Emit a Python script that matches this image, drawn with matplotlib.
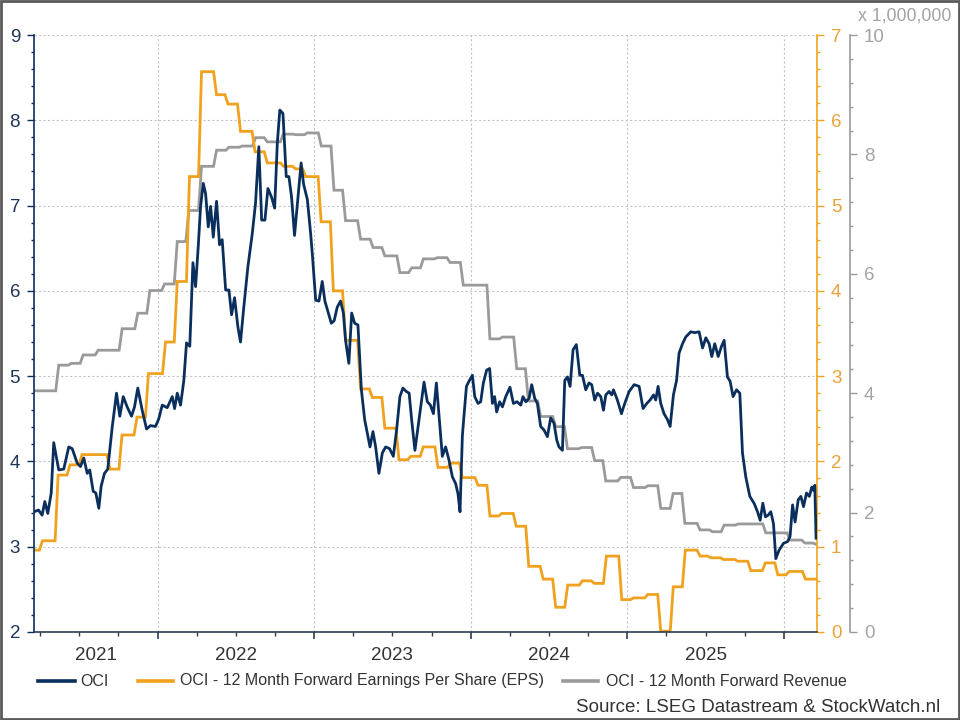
import matplotlib
matplotlib.use('Agg')
import matplotlib.pyplot as plt
from matplotlib.ticker import MultipleLocator, FixedLocator, NullFormatter
from matplotlib.transforms import blended_transform_factory
from matplotlib.lines import Line2D
from matplotlib.patches import Rectangle

plt.rcParams['font.family'] = ['Liberation Sans', 'DejaVu Sans']

# ---------------- data (time in decimal years) ----------------
oci_t = [2021.211, 2021.240, 2021.263, 2021.280, 2021.299, 2021.321, 2021.337, 2021.369, 2021.401,
         2021.433, 2021.455, 2021.487, 2021.508, 2021.529, 2021.551, 2021.567, 2021.589, 2021.606,
         2021.625, 2021.640, 2021.661, 2021.682, 2021.711, 2021.738, 2021.759, 2021.781, 2021.806,
         2021.834, 2021.853, 2021.874, 2021.902, 2021.930, 2021.955, 2021.987, 2022.008, 2022.030,
         2022.062, 2022.094, 2022.109, 2022.126, 2022.147, 2022.168, 2022.185, 2022.206, 2022.226,
         2022.243, 2022.260, 2022.275, 2022.292, 2022.307, 2022.324, 2022.339, 2022.356, 2022.377,
         2022.396, 2022.413, 2022.435, 2022.456, 2022.473, 2022.492, 2022.513, 2022.530, 2022.551,
         2022.577, 2022.605, 2022.626, 2022.647, 2022.665, 2022.686, 2022.705, 2022.728, 2022.748,
         2022.765, 2022.781, 2022.801, 2022.822, 2022.839, 2022.856, 2022.875, 2022.895, 2022.917,
         2022.933, 2022.957, 2022.978, 2022.990, 2023.010, 2023.031, 2023.052, 2023.069, 2023.091,
         2023.110, 2023.128, 2023.148, 2023.169, 2023.187, 2023.201, 2023.222, 2023.240, 2023.259,
         2023.280, 2023.302, 2023.323, 2023.357, 2023.376, 2023.393, 2023.414, 2023.436, 2023.457,
         2023.482, 2023.506, 2023.527, 2023.548, 2023.567, 2023.589, 2023.607, 2023.623, 2023.644,
         2023.670, 2023.702, 2023.723, 2023.743, 2023.762, 2023.781, 2023.797, 2023.819, 2023.840,
         2023.861, 2023.883, 2023.904, 2023.919, 2023.932, 2023.947, 2023.957, 2023.973, 2023.989,
         2024.011, 2024.026, 2024.047, 2024.064, 2024.081, 2024.102, 2024.121, 2024.139, 2024.153,
         2024.166, 2024.185, 2024.203, 2024.224, 2024.251, 2024.273, 2024.296, 2024.320, 2024.334,
         2024.352, 2024.373, 2024.390, 2024.409, 2024.426, 2024.447, 2024.468, 2024.490, 2024.511,
         2024.532, 2024.550, 2024.564, 2024.586, 2024.601, 2024.618, 2024.635, 2024.654, 2024.675,
         2024.697, 2024.714, 2024.735, 2024.756, 2024.773, 2024.792, 2024.810, 2024.831, 2024.848,
         2024.863, 2024.884, 2024.901, 2024.912, 2024.937, 2024.963, 2024.984, 2025.012, 2025.044,
         2025.076, 2025.101, 2025.125, 2025.146, 2025.168, 2025.182, 2025.197, 2025.214, 2025.235,
         2025.257, 2025.274, 2025.295, 2025.315, 2025.331, 2025.353, 2025.374, 2025.406, 2025.431,
         2025.459, 2025.481, 2025.502, 2025.523, 2025.540, 2025.559, 2025.581, 2025.602, 2025.619,
         2025.640, 2025.657, 2025.676, 2025.698, 2025.719, 2025.736, 2025.757, 2025.783, 2025.810,
         2025.832, 2025.849, 2025.866, 2025.883, 2025.900, 2025.917, 2025.934, 2025.949, 2025.970,
         2025.998, 2026.024, 2026.040, 2026.056, 2026.072, 2026.092, 2026.109, 2026.126, 2026.145,
         2026.163, 2026.179, 2026.190, 2026.198, 2026.206]
oci_v = [3.41, 3.43, 3.37, 3.53, 3.39, 3.63, 4.22, 3.90, 3.91,
         4.17, 4.15, 3.98, 3.94, 4.04, 3.86, 3.90, 3.65, 3.63,
         3.45, 3.71, 3.86, 3.91, 4.41, 4.80, 4.53, 4.76, 4.64,
         4.53, 4.64, 4.86, 4.60, 4.38, 4.42, 4.41, 4.50, 4.66,
         4.63, 4.76, 4.62, 4.80, 4.66, 4.95, 5.39, 5.35, 6.33,
         6.05, 6.52, 6.99, 7.26, 7.14, 6.75, 6.99, 6.63, 7.05,
         6.54, 6.60, 6.01, 6.01, 5.72, 5.92, 5.58, 5.40, 5.81,
         6.28, 6.67, 7.03, 7.69, 6.83, 6.83, 7.20, 7.10, 6.97,
         7.73, 8.12, 8.08, 7.34, 7.34, 7.10, 6.65, 7.05, 7.50,
         7.25, 7.07, 6.67, 6.40, 5.89, 5.88, 6.11, 5.88, 5.74,
         5.62, 5.65, 5.81, 5.88, 5.74, 5.42, 5.15, 5.74, 5.62,
         5.60, 4.84, 4.49, 4.17, 4.35, 4.17, 3.86, 4.10, 4.17,
         4.15, 4.06, 4.37, 4.76, 4.86, 4.82, 4.80, 4.49, 4.13,
         4.49, 4.93, 4.70, 4.66, 4.56, 4.92, 4.56, 4.06, 4.17,
         4.02, 3.82, 3.74, 3.62, 3.41, 4.30, 4.53, 4.88, 4.94,
         5.01, 4.76, 4.68, 4.70, 4.92, 5.07, 5.09, 4.68, 4.76,
         4.58, 4.70, 4.64, 4.76, 4.87, 4.68, 4.70, 4.66, 4.76,
         4.70, 4.74, 4.90, 4.74, 4.68, 4.41, 4.37, 4.29, 4.51,
         4.45, 4.25, 4.17, 4.13, 4.95, 4.99, 4.88, 5.31, 5.37,
         5.01, 5.01, 4.84, 4.92, 4.90, 4.72, 4.80, 4.76, 4.60,
         4.78, 4.82, 4.78, 4.84, 4.72, 4.56, 4.68, 4.82, 4.90,
         4.88, 4.62, 4.68, 4.72, 4.78, 4.72, 4.88, 4.68, 4.56,
         4.49, 4.41, 4.78, 4.95, 5.27, 5.38, 5.46, 5.52, 5.51,
         5.52, 5.33, 5.45, 5.38, 5.23, 5.38, 5.23, 5.35, 5.42,
         4.99, 4.94, 4.76, 4.84, 4.80, 4.10, 3.82, 3.59, 3.51,
         3.41, 3.31, 3.51, 3.35, 3.37, 3.41, 3.27, 2.86, 2.96,
         3.04, 3.06, 3.12, 3.49, 3.29, 3.55, 3.59, 3.47, 3.63,
         3.59, 3.70, 3.66, 3.72, 3.10]

# EPS: start of each level and its value
eps_t = [2021.211, 2021.265, 2021.365, 2021.441, 2021.518, 2021.696, 2021.773, 2021.869, 2021.942,
         2022.051, 2022.126, 2022.204, 2022.281, 2022.377, 2022.450, 2022.530, 2022.623, 2022.701,
         2022.805, 2022.882, 2022.946, 2023.045, 2023.123, 2023.201, 2023.297, 2023.372, 2023.452,
         2023.542, 2023.617, 2023.697, 2023.791, 2023.872, 2023.947, 2024.047, 2024.123, 2024.198,
         2024.291, 2024.371, 2024.463, 2024.543, 2024.620, 2024.713, 2024.789, 2024.867, 2024.965,
         2025.040, 2025.131, 2025.214, 2025.294, 2025.371, 2025.465, 2025.534, 2025.615, 2025.706,
         2025.789, 2025.882, 2025.962, 2026.034, 2026.138]
eps_v = [0.96, 1.07, 1.84, 1.96, 2.08, 1.91, 2.31, 2.52, 3.03,
         3.40, 4.11, 5.34, 6.57, 6.30, 6.19, 5.87, 5.63, 5.50,
         5.46, 5.43, 5.34, 4.81, 4.00, 3.42, 2.85, 2.75, 2.39,
         2.02, 2.06, 2.17, 1.93, 1.98, 1.81, 1.72, 1.36, 1.39,
         1.24, 0.77, 0.62, 0.29, 0.55, 0.60, 0.57, 0.89, 0.38,
         0.40, 0.44, 0.01, 0.53, 0.96, 0.89, 0.87, 0.85, 0.83,
         0.72, 0.81, 0.67, 0.71, 0.62]

# Revenue (x 1,000,000): start of each level and its value
rev_t = [2021.211, 2021.369, 2021.449, 2021.525, 2021.621, 2021.774, 2021.874, 2021.951, 2022.045,
         2022.126, 2022.200, 2022.281, 2022.377, 2022.456, 2022.541, 2022.626, 2022.701, 2022.803,
         2022.882, 2022.957, 2023.046, 2023.127, 2023.201, 2023.297, 2023.377, 2023.452, 2023.548,
         2023.623, 2023.698, 2023.787, 2023.868, 2023.953, 2024.123, 2024.203, 2024.294, 2024.369,
         2024.447, 2024.543, 2024.618, 2024.709, 2024.792, 2024.863, 2024.959, 2025.040, 2025.133,
         2025.214, 2025.293, 2025.368, 2025.465, 2025.544, 2025.619, 2025.709, 2025.885, 2026.040,
         2026.134, 2026.205]
rev_v = [4.04, 4.47, 4.50, 4.64, 4.72, 5.08, 5.34, 5.72, 5.83,
         6.54, 7.06, 7.80, 8.07, 8.12, 8.14, 8.28, 8.21, 8.34,
         8.33, 8.36, 8.14, 7.40, 6.89, 6.58, 6.44, 6.30, 6.02,
         6.10, 6.25, 6.27, 6.19, 5.81, 4.91, 4.94, 4.41, 3.87,
         3.61, 3.44, 3.07, 3.09, 2.87, 2.53, 2.59, 2.42, 2.45,
         2.07, 2.32, 1.82, 1.71, 1.68, 1.79, 1.81, 1.66, 1.54,
         1.49, 1.47]

t_end = 2026.212
year_labels = ['2021', '2022', '2023', '2024', '2025']
series_names = ['OCI', 'OCI - 12 Month Forward Earnings Per Share (EPS)',
                'OCI - 12 Month Forward Revenue']

# ---------------- styles ----------------
C_OCI = '#0b2f5c'
C_EPS = '#f0a21e'
C_REV = '#9a9a9a'
C_TXT = '#333333'
C_LEFT = '#1d3557'
C_GRID = '#c4c4c4'


def step_path(ts, vs, end, ramp=1 / 52):
    xs, ys = [], []
    for i, (t, v) in enumerate(zip(ts, vs)):
        nxt = ts[i + 1] - ramp if i + 1 < len(ts) else end
        xs += [t, nxt]
        ys += [v, v]
    return xs, ys


fig = plt.figure(figsize=(9.6, 7.2), dpi=100, facecolor='white')
L, R, B, T = 34 / 960, 817 / 960, 88 / 720, 685 / 720
ax = fig.add_axes([L, B, R - L, T - B])
ax2 = ax.twinx()
ax3 = ax.twinx()

ax3.set_zorder(1)
ax2.set_zorder(2)
ax.set_zorder(3)
for a in (ax, ax2, ax3):
    a.patch.set_visible(False)

x0 = 2021.211
ax.set_xlim(x0, t_end)
ax.set_ylim(2, 9)
ax2.set_ylim(0, 7)
ax3.set_ylim(0, 10)

# grid drawn on the lowest axis
tr = blended_transform_factory(ax3.transAxes, ax.transData)
for v in range(2, 10):
    ax3.plot([0, 1], [v, v], transform=tr, color=C_GRID, lw=0.8, ls=(0, (2, 2)), zorder=0)
for yr in range(2022, 2027):
    if yr < t_end:
        ax3.axvline(yr, color=C_GRID, lw=0.8, ls=(0, (2, 2)), zorder=0)

# series
rx, ry = step_path(rev_t, rev_v, t_end)
ax3.plot(rx, ry, color=C_REV, lw=2.0, solid_joinstyle='miter')
ex, ey = step_path(eps_t, eps_v, t_end)
ax2.plot(ex, ey, color=C_EPS, lw=2.0, solid_joinstyle='miter')
ax.plot(oci_t, oci_v, color=C_OCI, lw=2.0)

# spines
for a in (ax, ax2, ax3):
    a.spines['top'].set_visible(False)
ax.spines['right'].set_visible(False)
ax.spines['left'].set_color(C_OCI)
ax.spines['left'].set_linewidth(1.2)
ax.spines['bottom'].set_color('#2c3e50')
ax.spines['bottom'].set_linewidth(1.2)
for a in (ax2, ax3):
    a.spines['left'].set_visible(False)
    a.spines['bottom'].set_visible(False)
ax2.spines['right'].set_color(C_EPS)
ax2.spines['right'].set_linewidth(1.2)
ax3.spines['right'].set_position(('axes', (850 - 34) / 783))
ax3.spines['right'].set_color(C_REV)
ax3.spines['right'].set_linewidth(1.2)

# left axis ticks
ax.yaxis.set_major_locator(MultipleLocator(1))
ax.yaxis.set_minor_locator(MultipleLocator(0.2))
ax.tick_params(axis='y', which='major', length=5, width=1, color=C_OCI,
               labelcolor=C_LEFT, labelsize=13.5, pad=5)
ax.tick_params(axis='y', which='minor', length=2.5, width=1, color=C_OCI)

# x axis
ax.xaxis.set_major_locator(FixedLocator([y for y in range(2022, 2027)]))
ax.xaxis.set_minor_locator(FixedLocator([y + q / 4 for y in range(2021, 2027) for q in range(4)
                                         if x0 < y + q / 4 < t_end]))
ax.xaxis.set_major_formatter(NullFormatter())
ax.tick_params(axis='x', which='major', length=5, width=1.2, color='#2c3e50')
ax.tick_params(axis='x', which='minor', length=3, width=1, color='#2c3e50')
btr = blended_transform_factory(ax.transData, ax.transAxes)
bounds = [x0, 2022, 2023, 2024, 2025, 2026]
for i, lab in enumerate(year_labels):
    ax.text((bounds[i] + bounds[i + 1]) / 2, -23 / 597, lab, transform=btr,
            ha='center', va='center', fontsize=13.5, color=C_TXT)

# EPS axis
ax2.yaxis.set_major_locator(MultipleLocator(1))
ax2.yaxis.set_minor_locator(MultipleLocator(0.2))
ax2.tick_params(axis='y', which='major', length=5, width=1, color=C_EPS,
                labelcolor='#e8a23a', labelsize=13.5, pad=5)
ax2.tick_params(axis='y', which='minor', length=2.5, width=1, color=C_EPS)

# Revenue axis
ax3.yaxis.set_major_locator(MultipleLocator(2))
ax3.yaxis.set_minor_locator(MultipleLocator(0.4))
ax3.tick_params(axis='y', which='major', length=5, width=1, color=C_REV,
                labelcolor='#a3a3a3', labelsize=13.5, pad=5)
ax3.tick_params(axis='y', which='minor', length=2.5, width=1, color=C_REV)
fig.text(858 / 960, 1 - 16 / 720, 'x 1,000,000', ha='left', va='center',
         fontsize=12.8, color='#a3a3a3')

# legend (manual)
ly = 1 - 681 / 720
items = [(38, 75, 80, C_OCI), (138, 173, 180, C_EPS), (563, 598, 606, C_REV)]
for (xa, xb, xt, c), name in zip(items, series_names):
    fig.add_artist(Line2D([xa / 960, xb / 960], [ly, ly], color=c, lw=2.6,
                          transform=fig.transFigure))
    fig.text(xt / 960, ly, name, ha='left', va='center', fontsize=11.5, color=C_TXT)

fig.text(940 / 960, 1 - 707 / 720, 'Source: LSEG Datastream & StockWatch.nl',
         ha='right', va='center', fontsize=13.5, color=C_TXT)

# outer frame
fig.add_artist(Rectangle((0.001, 0.0015), 0.998, 0.997, transform=fig.transFigure,
                         fill=False, edgecolor='#5a5a5a', lw=2))

fig.savefig('out.png', dpi=100, facecolor='white')
